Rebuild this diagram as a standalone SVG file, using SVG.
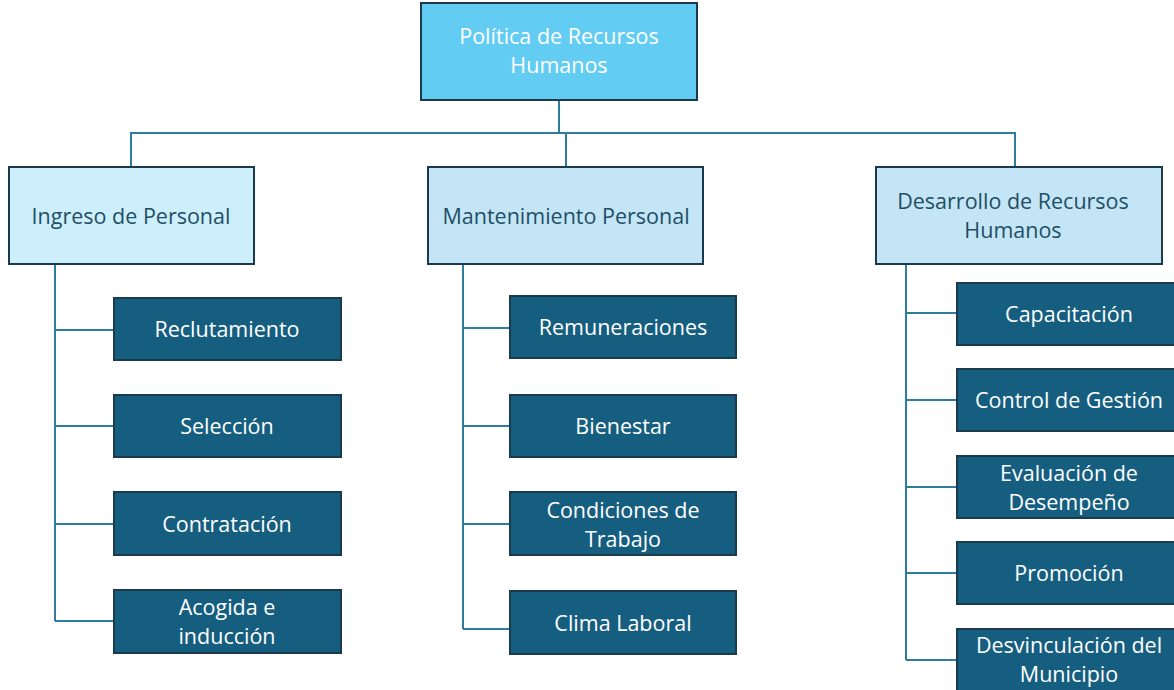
<svg xmlns="http://www.w3.org/2000/svg" width="1174" height="690" viewBox="0 0 1174 690">
<style>
.top{fill:#63CCF3;stroke:#1B3A4B;stroke-width:2}
.mid{fill:#C3E5F5;stroke:#1B3A4B;stroke-width:2}
.mid1{fill:#CDEEFB;stroke:#1B3A4B;stroke-width:2}
.leaf{fill:#165E80;stroke:#1B3A4B;stroke-width:2}
.tw{font-family:"Open Sans","Noto Sans",sans-serif;font-size:21.5px;fill:#FFFFFF;text-anchor:middle}
.td{font-family:"Open Sans","Noto Sans",sans-serif;font-size:21.5px;fill:#1F4E66;text-anchor:middle}
.con{fill:none;stroke:#2E7DA1;stroke-width:2}
</style>
<g id="connectors">
<path class="con" d="M559,100 V133 M131,167 V133 H1015 V167 M566,133 V167"/>
<path class="con" d="M55,264 V621 M55,330 H114 M55,426 H114 M55,524 H114 M55,621 H114"/>
<path class="con" d="M463,264 V629 M463,328 H510 M463,426 H510 M463,524 H510 M463,629 H510"/>
<path class="con" d="M906,264 V660 M906,313 H957 M906,400 H957 M906,487 H957 M906,573 H957 M906,660 H957"/>
</g>
<g id="politica"><rect class="top" x="421" y="3" width="276" height="97"/><text class="tw" x="559" y="44">Política de Recursos</text><text class="tw" x="559" y="73">Humanos</text></g>
<g id="ingreso"><rect class="mid1" x="9" y="167" width="245" height="97"/><text class="td" x="131" y="224">Ingreso de Personal</text></g>
<g id="mantenimiento"><rect class="mid" x="428" y="167" width="275" height="97"/><text class="td" x="566" y="224">Mantenimiento Personal</text></g>
<g id="desarrollo"><rect class="mid" x="876" y="167" width="286" height="97"/><text class="td" x="1013" y="209">Desarrollo de Recursos</text><text class="td" x="1013" y="238">Humanos</text></g>
<g id="reclutamiento"><rect class="leaf" x="114" y="298" width="227" height="62"/><text class="tw" x="227" y="337">Reclutamiento</text></g>
<g id="seleccion"><rect class="leaf" x="114" y="395" width="227" height="62"/><text class="tw" x="227" y="434">Selección</text></g>
<g id="contratacion"><rect class="leaf" x="114" y="492" width="227" height="63"/><text class="tw" x="227" y="532">Contratación</text></g>
<g id="acogida"><rect class="leaf" x="114" y="590" width="227" height="63"/><text class="tw" x="227" y="615">Acogida e</text><text class="tw" x="227" y="644">inducción</text></g>
<g id="remuneraciones"><rect class="leaf" x="510" y="296" width="226" height="62"/><text class="tw" x="623" y="335">Remuneraciones</text></g>
<g id="bienestar"><rect class="leaf" x="510" y="395" width="226" height="62"/><text class="tw" x="623" y="434">Bienestar</text></g>
<g id="condiciones"><rect class="leaf" x="510" y="492" width="226" height="63"/><text class="tw" x="623" y="518">Condiciones de</text><text class="tw" x="623" y="547">Trabajo</text></g>
<g id="clima"><rect class="leaf" x="510" y="591" width="226" height="63"/><text class="tw" x="623" y="631">Clima Laboral</text></g>
<g id="capacitacion"><rect class="leaf" x="957" y="283" width="222" height="62"/><text class="tw" x="1069" y="322">Capacitación</text></g>
<g id="control"><rect class="leaf" x="957" y="369" width="222" height="62"/><text class="tw" x="1069" y="408">Control de Gestión</text></g>
<g id="evaluacion"><rect class="leaf" x="957" y="456" width="222" height="62"/><text class="tw" x="1069" y="481">Evaluación de</text><text class="tw" x="1069" y="510">Desempeño</text></g>
<g id="promocion"><rect class="leaf" x="957" y="542" width="222" height="62"/><text class="tw" x="1069" y="581">Promoción</text></g>
<g id="desvinculacion"><rect class="leaf" x="957" y="629" width="222" height="70"/><text class="tw" x="1069" y="653">Desvinculación del</text><text class="tw" x="1069" y="682">Municipio</text></g>
</svg>
